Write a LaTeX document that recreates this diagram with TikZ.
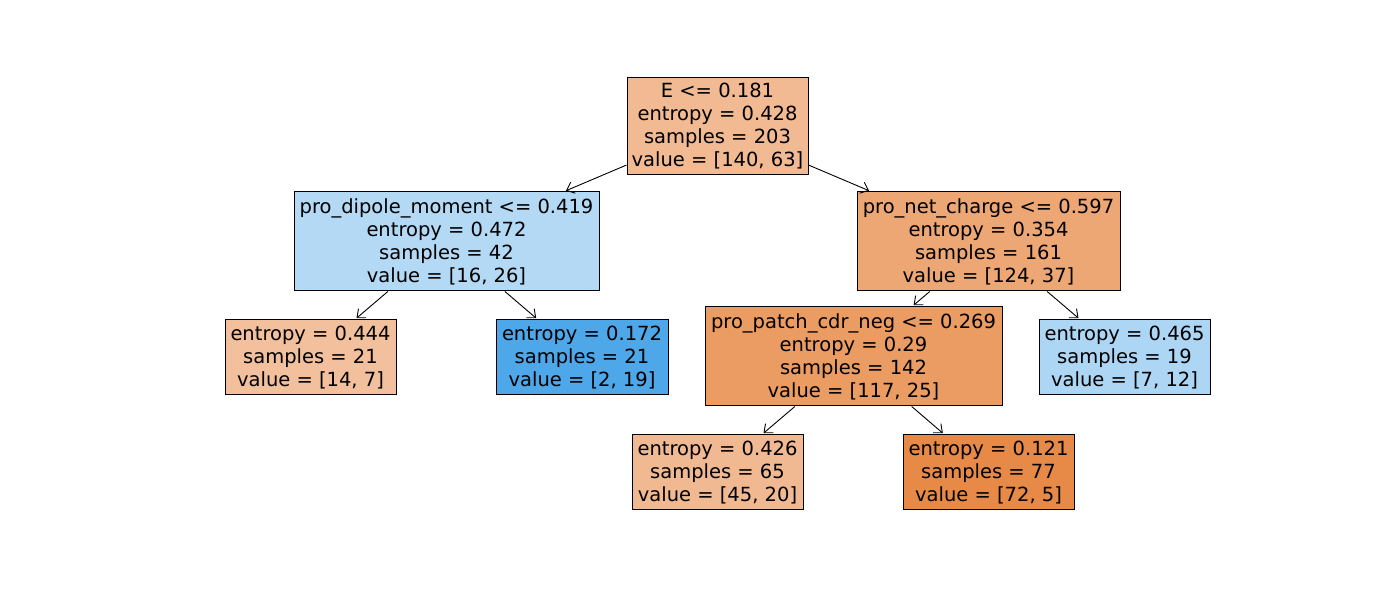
\documentclass[tikz,border=0pt]{standalone}
\usepackage{fontspec}
\setmainfont{DejaVu Sans}
\usetikzlibrary{arrows.meta}
\definecolor{corange}{RGB}{229,129,57}
\definecolor{cblue}{RGB}{57,157,229}
\tikzset{
  tnode/.style={draw=black, line width=1pt, inner sep=0pt, align=center,
    font=\fontsize{19.5}{23}\selectfont},
  edge/.style={line width=0.9pt, -{Straight Barb[length=7pt,width=12pt]}, shorten >=2pt}
}
\begin{document}
\begin{tikzpicture}[x=1pt,y=1pt]
\useasboundingbox (0,0) rectangle (1400,596);
\node[tnode, fill=corange!55!white, minimum width=181pt, minimum height=97pt] (root) at (717.5,469.5)
  {E <= 0.181\\entropy = 0.428\\samples = 203\\value = [140, 63]};
\node[tnode, fill=cblue!38.5!white, minimum width=305pt, minimum height=99pt] (dip) at (446.5,354.5)
  {pro\_dipole\_moment <= 0.419\\entropy = 0.472\\samples = 42\\value = [16, 26]};
\node[tnode, fill=corange!70.2!white, minimum width=263pt, minimum height=99pt] (net) at (988.5,354.5)
  {pro\_net\_charge <= 0.597\\entropy = 0.354\\samples = 161\\value = [124, 37]};
\node[tnode, fill=corange!50!white, minimum width=171pt, minimum height=75pt] (l1) at (310.5,238.5)
  {entropy = 0.444\\samples = 21\\value = [14, 7]};
\node[tnode, fill=cblue!89.5!white, minimum width=172pt, minimum height=75pt] (l2) at (582,238.5)
  {entropy = 0.172\\samples = 21\\value = [2, 19]};
\node[tnode, fill=corange!78.6!white, minimum width=297pt, minimum height=99pt] (patch) at (853.5,239.5)
  {pro\_patch\_cdr\_neg <= 0.269\\entropy = 0.29\\samples = 142\\value = [117, 25]};
\node[tnode, fill=cblue!41.7!white, minimum width=171pt, minimum height=75pt] (l3) at (1124.5,238.5)
  {entropy = 0.465\\samples = 19\\value = [7, 12]};
\node[tnode, fill=corange!55.6!white, minimum width=171pt, minimum height=75pt] (l4) at (717.5,123.5)
  {entropy = 0.426\\samples = 65\\value = [45, 20]};
\node[tnode, fill=corange!93.1!white, minimum width=171pt, minimum height=75pt] (l5) at (988.5,123.5)
  {entropy = 0.121\\samples = 77\\value = [72, 5]};
\draw[edge] (root) -- (dip);
\draw[edge] (root) -- (net);
\draw[edge] (dip) -- (l1);
\draw[edge] (dip) -- (l2);
\draw[edge] (net) -- (patch);
\draw[edge] (net) -- (l3);
\draw[edge] (patch) -- (l4);
\draw[edge] (patch) -- (l5);
\end{tikzpicture}
\end{document}
